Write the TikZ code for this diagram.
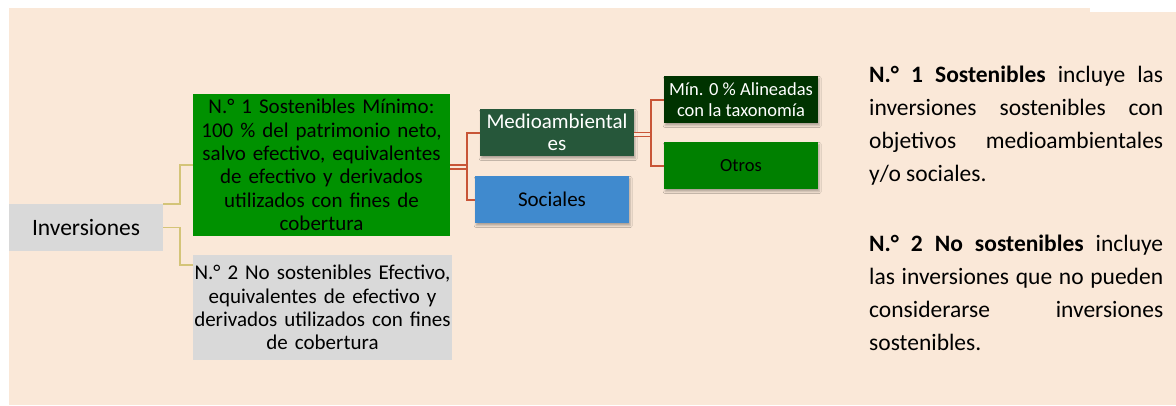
\documentclass[tikz,border=0pt]{standalone}
\usepackage{fontspec}
\setmainfont{Carlito}
\usetikzlibrary{calc,shadows.blur}
\definecolor{peach}{RGB}{250,232,216}
\definecolor{boxgray}{RGB}{217,217,217}
\definecolor{leafgreen}{RGB}{0,145,0}
\definecolor{envgreen}{RGB}{38,87,58}
\definecolor{socblue}{RGB}{64,138,206}
\definecolor{taxgreen}{RGB}{0,51,0}
\definecolor{othgreen}{RGB}{0,128,0}
\definecolor{tanline}{RGB}{212,196,120}
\definecolor{rustline}{RGB}{200,85,55}
\begin{document}
\begin{tikzpicture}[x=1pt, y=-1pt, every node/.style={inner sep=0pt, align=center},
    box/.style={minimum width=154pt, minimum height=47pt, font=\fontsize{21}{22}\selectfont},
    small/.style={box, font=\fontsize{18.5}{20.5}\selectfont},
    shade/.style={blur shadow={shadow xshift=1.2pt, shadow yshift=-2.5pt, shadow blur radius=2pt, shadow opacity=30}},
    tree/.style={draw=tanline, line width=1.8pt},
    branch/.style={draw=rustline, line width=2pt},
    twin/.style={branch, double=peach, double distance=2.4pt, line width=1.5pt},
    desc/.style={text width=294pt, align=justify, font=\fontsize{23.5}{33}\selectfont}]
    \useasboundingbox (0,0) rectangle (1176,405);
    \fill[peach] (9,8) rectangle (1090,405);
    \fill[peach] (1090,12) rectangle (1176,405);
    % hierarchy
    \node[box, fill=boxgray, minimum width=154pt, font=\fontsize{23.5}{25}\selectfont] (inv) at (86,227.5) {Inversiones};
    \node[box, fill=leafgreen, minimum width=257pt, minimum height=142pt, text width=255pt, font=\fontsize{21}{23.3}\selectfont] (n1) at (321.5,165)
        {N.° 1 Sostenibles Mínimo:\\100 \% del patrimonio neto,\\salvo efectivo, equivalentes\\de efectivo y derivados\\utilizados con fines de\\cobertura};
    \node[box, fill=boxgray, minimum width=259pt, minimum height=105pt, text width=257pt, font=\fontsize{21}{23.3}\selectfont] (n2) at (322.5,307.5)
        {N.° 2 No sostenibles Efectivo,\\equivalentes de efectivo y\\derivados utilizados con fines\\de cobertura};
    \node[box, shade, fill=envgreen, text=white] (medio) at (557,132.5) {Medioambiental\\es};
    \node[box, shade, fill=socblue] (soc) at (552,199.5) {Sociales};
    \node[small, shade, fill=taxgreen, text=white] (tax) at (741,99.5) {Mín. 0 \% Alineadas\\con la taxonomía};
    \node[small, shade, fill=othgreen] (otros) at (741,165.5) {Otros};
    % connectors
    \draw[tree] (inv.north east) -- ++(17,0) |- (n1.west);
    \draw[tree] (inv.east) -- ++(17,0) |- ($(n2.north west)+(0,10)$);
    \coordinate (j1) at ($(n1.east)+(17,2)$);
    \coordinate (j2) at ($(medio.east)+(17,2)$);
    \draw[twin] (n1.east |- j1) -- (j1);
    \draw[branch] (medio.west) -| (j1 |- soc.west) -- (soc.west);
    \draw[twin] (medio.east |- j2) -- (j2);
    \draw[branch] (tax.west) -| (j2 |- otros.west) -- (otros.west);
    % notes
    \node[desc, anchor=base west] (desc1) at (869,82.7)
        {\textbf{N.° 1 Sostenibles} incluye las\linebreak inversiones sostenibles con\linebreak objetivos medioambientales\linebreak y/o sociales.};
    \node[desc, anchor=base west] (desc2) at (869,251.7)
        {\textbf{N.° 2 No sostenibles} incluye\linebreak las inversiones que no pueden\linebreak considerarse inversiones\linebreak sostenibles.};
\end{tikzpicture}
\end{document}
